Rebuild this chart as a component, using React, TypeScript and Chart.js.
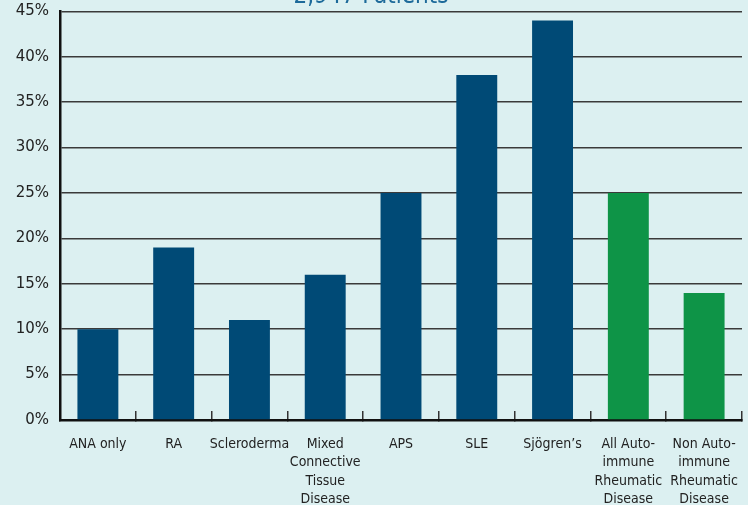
import React, { useEffect, useRef } from "react";
import { Chart, registerables } from "chart.js";

Chart.register(...registerables);

const chartTitle = "2,947 Patients";
const categories: string[][] = [
  ["ANA only"],
  ["RA"],
  ["Scleroderma"],
  ["Mixed", "Connective", "Tissue", "Disease"],
  ["APS"],
  ["SLE"],
  ["Sjögren’s"],
  ["All Auto-", "immune", "Rheumatic", "Disease"],
  ["Non Auto-", "immune", "Rheumatic", "Disease"],
];
const percentValues = [10, 19, 11, 16, 25, 38, 44, 25, 14];
const BLUE = "#004a76";
const GREEN = "#0e9447";
const barColors = [BLUE, BLUE, BLUE, BLUE, BLUE, BLUE, BLUE, GREEN, GREEN];
const yMin = 0;
const yMax = 45;
const yStep = 5;

const BG = "#dcf0f1";
const COND = "'DejaVu Sans Condensed', 'DejaVu Sans', sans-serif";
const REGULAR = "'DejaVu Sans', sans-serif";

export default function App() {
  const ref = useRef<HTMLCanvasElement | null>(null);

  useEffect(() => {
    if (!ref.current) return;
    const chart = new Chart(ref.current, {
      type: "bar",
      data: {
        labels: categories,
        datasets: [
          {
            data: percentValues,
            backgroundColor: barColors,
            borderWidth: 0,
            barPercentage: 0.54,
            categoryPercentage: 1,
          },
        ],
      },
      options: {
        animation: false,
        responsive: false,
        maintainAspectRatio: false,
        layout: { padding: { left: 0, right: 6, top: 0, bottom: 0 } },
        plugins: {
          legend: { display: false },
          tooltip: { enabled: false },
          title: {
            display: true,
            text: chartTitle,
            color: "#1d6a9a",
            font: { family: COND, size: 24, weight: "normal" },
            padding: { top: 12.6, bottom: 0 },
          },
        },
        scales: {
          x: {
            afterFit: (s: any) => {
              s.height = 85;
              s.paddingLeft = 0;
              s.paddingRight = 0;
            },
            grid: {
              offset: true,
              drawOnChartArea: false,
              drawTicks: true,
              tickLength: -9,
              color: "#333",
              lineWidth: 1.5,
            },
            border: { display: true, color: "#111", width: 2.5 },
            ticks: {
              padding: 24,
              color: "#222",
              maxRotation: 0,
              autoSkip: false,
              font: { family: COND, size: 14, lineHeight: 1.32 },
            },
          },
          y: {
            min: yMin,
            max: yMax,
            afterFit: (s: any) => {
              s.width = 60;
            },
            grid: {
              drawTicks: false,
              color: "#3a3a3a",
              lineWidth: 1.5,
            },
            border: { display: true, color: "#111", width: 2.5 },
            ticks: {
              stepSize: yStep,
              padding: 11,
              color: "#222",
              font: { family: REGULAR, size: 15 },
              callback: (v: any) => `${v}%`,
            },
          },
        },
      },
    });
    return () => chart.destroy();
  }, []);

  return (
    <div
      style={{
        position: "fixed",
        left: 0,
        top: 0,
        width: 748,
        height: 505,
        overflow: "hidden",
        background: BG,
      }}
    >
      <canvas
        ref={ref}
        width={748}
        height={535}
        style={{ position: "absolute", left: 0, top: -30, width: 748, height: 535 }}
      />
    </div>
  );
}
